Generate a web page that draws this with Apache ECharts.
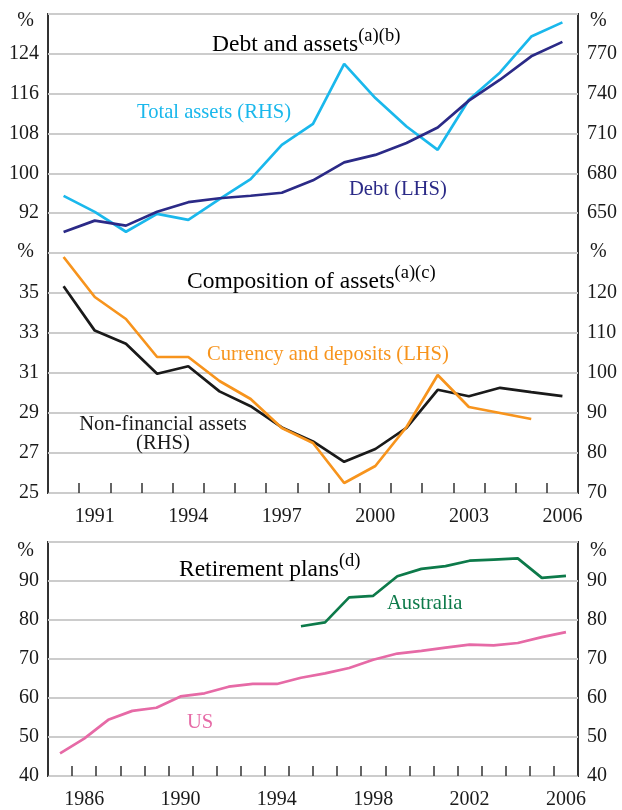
<!DOCTYPE html>
<html>
<head>
<meta charset="utf-8">
<script src="https://cdn.jsdelivr.net/npm/echarts@6/dist/echarts.min.js"></script>
<style>
  html, body { margin: 0; padding: 0; background: #fff; }
  #chart { width: 622px; height: 810px; }
</style>
</head>
<body>
<div id="chart"></div>
<script>
// panels 1 and 2: 1990-2006
var years = ['1990','1991','1992','1993','1994','1995','1996','1997','1998','1999','2000','2001','2002','2003','2004','2005','2006'];
var debt = [88.2, 90.5, 89.5, 92.3, 94.2, 95.0, 95.5, 96.1, 98.6, 102.2, 103.7, 106.1, 109.2, 114.6, 118.8, 123.5, 126.4];
var totalAssets = [663, 651, 636, 649.5, 645, 660.5, 675.6, 701.5, 717.3, 762.5, 736.7, 715.3, 697.7, 735.4, 756, 783, 793.7];
var currency = [36.8, 34.8, 33.7, 31.8, 31.8, 30.6, 29.7, 28.25, 27.5, 25.5, 26.35, 28.3, 30.9, 29.3, 29.0, 28.7, null];
var nonFinancial = [121.7, 110.6, 107.3, 99.8, 101.7, 95.4, 91.7, 86.4, 82.9, 77.8, 81.0, 86.3, 95.8, 94.2, 96.3, 95.2, 94.2];

// panel 3: 1985-2006
var years3 = ['1985','1986','1987','1988','1989','1990','1991','1992','1993','1994','1995','1996','1997','1998','1999','2000','2001','2002','2003','2004','2005','2006'];
var us = [45.8, 49.6, 54.4, 56.7, 57.5, 60.4, 61.2, 62.9, 63.6, 63.6, 65.2, 66.3, 67.7, 69.8, 71.4, 72.1, 72.9, 73.7, 73.5, 74.1, 75.6, 76.9];
var australia = [null, null, null, null, null, null, null, null, null, null, 78.4, 79.4, 85.8, 86.2, 91.2, 93.1, 93.8, 95.2, 95.5, 95.8, 90.8, 91.3];

var FONT = '"Liberation Serif", "DejaVu Serif", serif';
var AXIS = '#333';
var GRIDLINE = '#cccccc';

function yAx(grid, min, max, step, pos, showMin, split) {
  return {
    type: 'value', gridIndex: grid, position: pos,
    min: min, max: max, interval: step,
    axisLine: { show: false }, axisTick: { show: false },
    splitLine: { show: split, lineStyle: { color: GRIDLINE, width: 2 } },
    axisLabel: {
      margin: 9, color: '#1a1a1a', fontFamily: FONT, fontSize: 20,
      showMinLabel: showMin, showMaxLabel: false
    }
  };
}

function xAx(grid, cats, showLabels, first, every, margin) {
  return {
    type: 'category', gridIndex: grid, data: cats, boundaryGap: true,
    axisLine: { show: false },
    axisTick: { show: showLabels, inside: true, length: 10, interval: 0, lineStyle: { color: AXIS, width: 1.5 } },
    axisLabel: {
      show: showLabels, margin: margin, color: '#1a1a1a', fontFamily: FONT, fontSize: 20,
      interval: function (i, v) { return (Number(v) - first) % every === 0; }
    },
    splitLine: { show: false }
  };
}

function line(name, x, y, data, color) {
  return {
    name: name, type: 'line', xAxisIndex: x, yAxisIndex: y, data: data,
    showSymbol: false, connectNulls: false,
    lineStyle: { color: color, width: 2.7 }, itemStyle: { color: color }
  };
}

function txt(x, y, s, color, align, size) {
  return {
    type: 'text', x: x, y: y, z: 100,
    style: { text: s, fill: color, font: (size || 20.6) + 'px ' + FONT, textAlign: align || 'left', textVerticalAlign: 'middle' }
  };
}

function title(x, y, main, sup) {
  return {
    type: 'text', x: x, y: y, z: 100,
    style: {
      text: '{a|' + main + '}{b|' + sup + '}',
      textVerticalAlign: 'middle',
      rich: {
        a: { fontFamily: FONT, fontSize: 23.5, color: '#111', lineHeight: 30, verticalAlign: 'bottom' },
        b: { fontFamily: FONT, fontSize: 18.5, color: '#111', lineHeight: 30, verticalAlign: 'top' }
      }
    }
  };
}

var chart = echarts.init(document.getElementById('chart'));

chart.setOption({
  animation: false,
  backgroundColor: '#fff',
  grid: [
    { left: 48, right: 44, top: 14, height: 239, show: true, borderColor: AXIS, borderWidth: 2 },
    { left: 48, right: 44, top: 253, height: 240, show: true, borderColor: AXIS, borderWidth: 2 },
    { left: 48, right: 44, top: 542, height: 240, show: true, borderColor: AXIS, borderWidth: 2 }
  ],
  xAxis: [
    xAx(0, years, false, 1991, 3, 13),
    xAx(1, years, true, 1991, 3, 14),
    xAx(2, years3, true, 1986, 4, 14)
  ],
  yAxis: [
    yAx(0, 84, 132, 8, 'left', false, true),
    yAx(0, 620, 800, 30, 'right', false, false),
    yAx(1, 25, 37, 2, 'left', true, true),
    yAx(1, 70, 130, 10, 'right', true, false),
    yAx(2, 40, 100, 10, 'left', true, true),
    yAx(2, 40, 100, 10, 'right', true, false)
  ],
  series: [
    line('Total assets (RHS)', 0, 1, totalAssets, '#1ab8ec'),
    line('Debt (LHS)', 0, 0, debt, '#2b2a87'),
    line('Non-financial assets (RHS)', 1, 3, nonFinancial, '#1a1a1a'),
    line('Currency and deposits (LHS)', 1, 2, currency, '#f7941d'),
    line('US', 2, 4, us, '#e66aa6'),
    line('Australia', 2, 5, australia, '#0d7a4a')
  ],
  graphic: [
    title(212, 42, 'Debt and assets', '(a)(b)'),
    title(187, 279, 'Composition of assets', '(a)(c)'),
    title(179, 567, 'Retirement plans', '(d)'),
    txt(137, 113, 'Total assets (RHS)', '#1ab8ec'),
    txt(349, 190, 'Debt (LHS)', '#2b2a87'),
    txt(207, 355, 'Currency and deposits (LHS)', '#f7941d'),
    {
      type: 'text', x: 163, y: 434, z: 100,
      style: { text: 'Non-financial assets\n(RHS)', fill: '#1a1a1a', font: '20.6px ' + FONT, textAlign: 'center', textVerticalAlign: 'middle', lineHeight: 19 }
    },
    txt(387, 604, 'Australia', '#0d7a4a'),
    txt(187, 723, 'US', '#e66aa6'),
    txt(34, 21, '%', '#1a1a1a', 'right', 20),
    txt(590, 21, '%', '#1a1a1a', 'left', 20),
    txt(34, 252, '%', '#1a1a1a', 'right', 20),
    txt(590, 252, '%', '#1a1a1a', 'left', 20),
    txt(34, 551, '%', '#1a1a1a', 'right', 20),
    txt(590, 551, '%', '#1a1a1a', 'left', 20)
  ]
});
</script>
</body>
</html>
